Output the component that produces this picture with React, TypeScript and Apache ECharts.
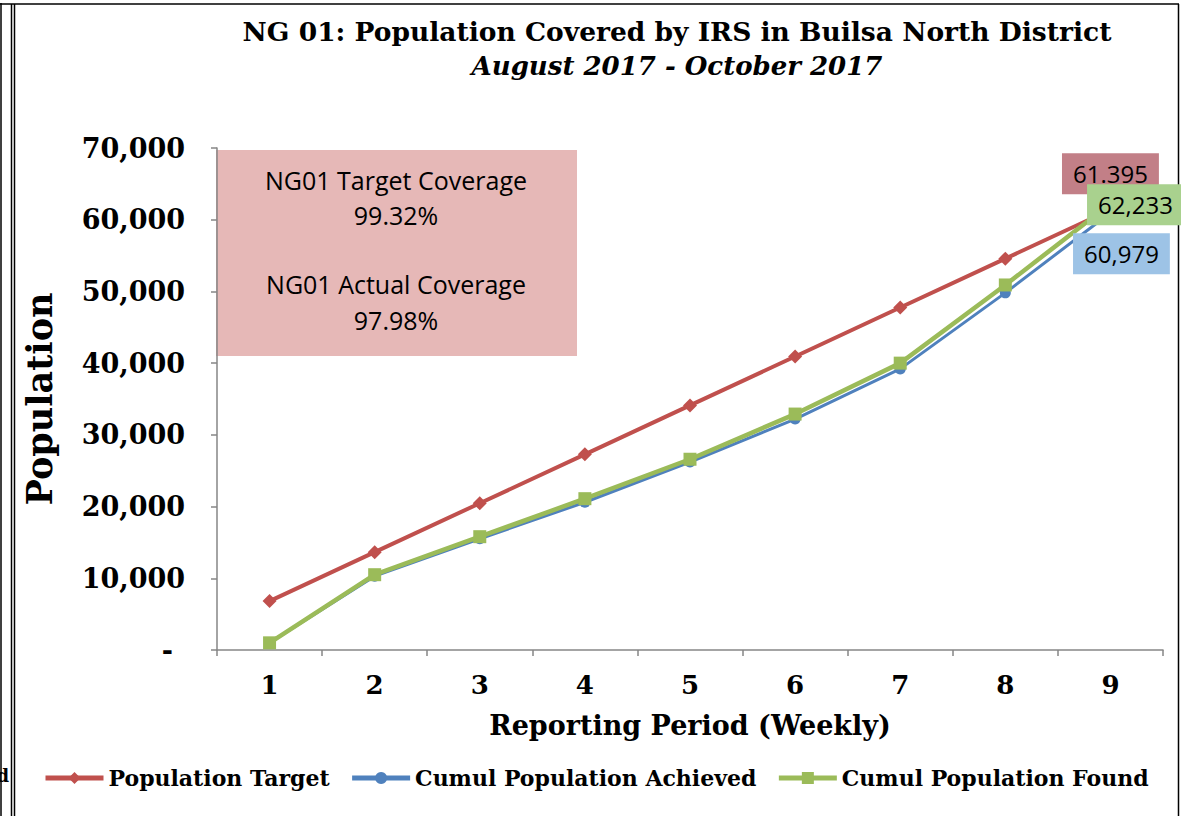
import React, { useEffect, useRef } from "react";
import * as echarts from "echarts";

const categories = ["1", "2", "3", "4", "5", "6", "7", "8", "9"];
const targetValues = [6822, 13643, 20465, 27287, 34108, 40930, 47752, 54573, 61395];
const achievedValues = [1000, 10300, 15500, 20600, 26200, 32200, 39200, 49800, 60979];
const foundValues = [1000, 10500, 15800, 21100, 26600, 32900, 40000, 50900, 62233];
const seriesNames = ["Population Target", "Cumul Population Achieved", "Cumul Population Found"];
const endLabels = ["61.395", "60,979", "62,233"];
const boxLines = ["NG01 Target Coverage", "99.32%", "NG01 Actual Coverage", "97.98%"];

const SERIF = "'DejaVu Serif', Georgia, serif";
const SANS = "'Open Sans', 'Noto Sans', sans-serif";

function withEndLabel(values: number[], text: string, bg: string, offset: number[]) {
  const last = values.length - 1;
  return values.map((v, i) =>
    i === last
      ? {
          value: v,
          label: {
            show: true,
            position: "inside",
            offset,
            formatter: text,
            backgroundColor: bg,
            color: "#000",
            fontFamily: SANS,
            fontSize: 24,
            lineHeight: 27,
            padding: [7, 11],
          },
        }
      : v
  );
}

export default function App() {
  const ref = useRef<HTMLDivElement>(null);
  useEffect(() => {
    if (!ref.current) return;
    const chart = echarts.init(ref.current, undefined, { renderer: "svg" });
    const option: any = {
      animation: false,
      backgroundColor: "#fff",
      grid: { left: 217, right: 18, top: 148, bottom: 166, containLabel: false },
      legend: {
        left: 38,
        top: 762,
        itemWidth: 58,
        itemHeight: 15,
        itemGap: 20,
        lineStyle: { width: 5 },
        textStyle: { fontFamily: SERIF, fontWeight: "bold", fontSize: 22, color: "#000" },
        data: seriesNames,
      },
      xAxis: {
        type: "category",
        data: categories,
        boundaryGap: true,
        axisLine: { lineStyle: { color: "#868686", width: 1.5 } },
        axisTick: { show: true, length: 6, lineStyle: { color: "#868686", width: 1.5 } },
        axisLabel: { margin: 22, fontFamily: SERIF, fontWeight: "bold", fontSize: 26, color: "#000" },
        splitLine: { show: false },
        name: "Reporting Period (Weekly)",
        nameLocation: "middle",
        nameGap: 62,
        nameTextStyle: { fontFamily: SERIF, fontWeight: "bold", fontSize: 27, color: "#000" },
      },
      yAxis: {
        type: "value",
        min: 0,
        max: 70000,
        interval: 10000,
        axisLine: { show: true, lineStyle: { color: "#868686", width: 1.5 } },
        axisTick: { show: true, length: 6, lineStyle: { color: "#868686", width: 1.5 } },
        splitLine: { show: false },
        axisLabel: {
          margin: 32,
          fontFamily: SERIF,
          fontWeight: "bold",
          fontSize: 27,
          color: "#000",
          formatter: (v: number) => (v === 0 ? "{z|-}" : v.toLocaleString("en-US")),
          rich: { z: { fontFamily: SERIF, fontWeight: "bold", fontSize: 27, color: "#000", padding: [0, 12, 0, 0] } },
        },
        name: "Population",
        nameLocation: "middle",
        nameGap: 160,
        nameTextStyle: { fontFamily: SERIF, fontWeight: "bold", fontSize: 35, color: "#000" },
      },
      series: [
        {
          name: seriesNames[0],
          type: "line",
          data: withEndLabel(targetValues, endLabels[0], "#c27f87", [0, -36]),
          symbol: "diamond",
          symbolSize: 14,
          itemStyle: { color: "#c0504d" },
          lineStyle: { color: "#c0504d", width: 4 },
        },
        {
          name: seriesNames[1],
          type: "line",
          data: withEndLabel(achievedValues, endLabels[1], "#9dc3e6", [11, 41]),
          symbol: "circle",
          symbolSize: 11,
          itemStyle: { color: "#4f81bd" },
          lineStyle: { color: "#4f81bd", width: 3 },
        },
        {
          name: seriesNames[2],
          type: "line",
          data: withEndLabel(foundValues, endLabels[2], "#a9d18e", [25, 1]),
          symbol: "rect",
          symbolSize: 13,
          itemStyle: { color: "#9bbb59" },
          lineStyle: { color: "#9bbb59", width: 4.5 },
        },
      ],
      graphic: [
        { type: "line", shape: { x1: 1, y1: 3, x2: 1, y2: 816 }, style: { stroke: "#000", lineWidth: 1.5 } },
        { type: "line", shape: { x1: 0, y1: 4, x2: 1179, y2: 4 }, style: { stroke: "#000", lineWidth: 1.5 } },
        { type: "line", shape: { x1: 11.5, y1: 4, x2: 11.5, y2: 816 }, style: { stroke: "#000", lineWidth: 1.5 } },
        { type: "line", shape: { x1: 14.5, y1: 4, x2: 14.5, y2: 816 }, style: { stroke: "#000", lineWidth: 1.5 } },
        { type: "line", shape: { x1: 1178.5, y1: 4, x2: 1178.5, y2: 816 }, style: { stroke: "#000", lineWidth: 1.5 } },
        {
          type: "text",
          x: 9,
          y: 775,
          style: { text: "d", fill: "#000", font: `bold 18px ${SERIF}`, align: "right", verticalAlign: "middle" },
        },
        {
          type: "text",
          x: 677,
          y: 31,
          style: {
            text: "NG 01: Population Covered by IRS in Builsa North District",
            fill: "#000",
            font: `bold 26.5px ${SERIF}`,
            align: "center",
            verticalAlign: "middle",
          },
        },
        {
          type: "text",
          x: 677,
          y: 66,
          style: {
            text: "August 2017 - October 2017",
            fill: "#000",
            font: `italic bold 26px ${SERIF}`,
            align: "center",
            verticalAlign: "middle",
          },
        },
        { type: "rect", shape: { x: 216, y: 150, width: 361, height: 206 }, style: { fill: "#e6b8b7" }, z: 0 },
        ...boxLines.map((t, i) => ({
          type: "text",
          x: 396,
          y: [180, 215, 284, 320][i],
          z: 1,
          style: { text: t, fill: "#000", font: `25px ${SANS}`, align: "center", verticalAlign: "middle" },
        })),
      ],
    };
    chart.setOption(option);
    return () => chart.dispose();
  }, []);
  return <div ref={ref} style={{ position: "fixed", left: 0, top: 0, width: 1181, height: 816 }} />;
}
